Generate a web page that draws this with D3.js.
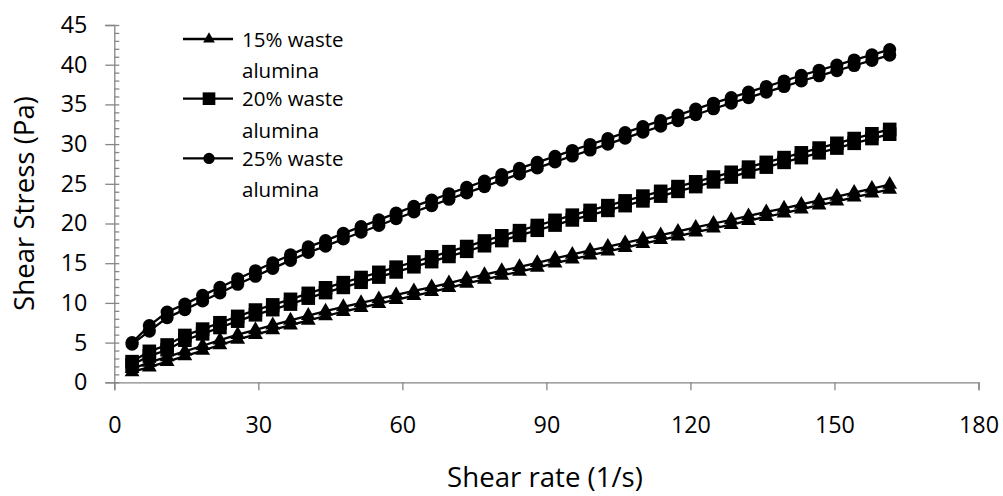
<!DOCTYPE html>
<html><head><meta charset="utf-8">
<script src="https://cdn.jsdelivr.net/npm/d3@7"></script>
<style>
html,body{margin:0;padding:0;background:#fff;}
text{font-family:"Open Sans",sans-serif;fill:#000;}
</style></head>
<body><svg id="c" width="1003" height="496"></svg>
<script>
// Shear rate (1/s)
const shearRate = [3.7,7.3,11.0,14.7,18.4,22.0,25.7,29.4,33.0,36.7,40.4,44.0,47.7,51.4,55.1,58.7,62.4,66.1,69.7,73.4,77.1,80.7,84.4,88.1,91.8,95.4,99.1,102.8,106.4,110.1,113.8,117.4,121.1,124.8,128.5,132.1,135.8,139.5,143.1,146.8,150.5,154.1,157.8,161.5];

// 15% waste alumina (two sweeps)
const s15a = [1.7,2.5,3.2,3.9,4.6,5.3,6.0,6.6,7.2,7.8,8.4,8.95,9.5,10.0,10.5,11.0,11.5,12.0,12.5,13.05,13.55,14.05,14.55,15.05,15.6,16.1,16.6,17.1,17.55,18.05,18.55,19.0,19.5,20.0,20.45,20.95,21.45,21.9,22.4,22.9,23.4,23.9,24.4,24.9];
const s15b = [1.3,1.9,2.6,3.3,4.0,4.7,5.4,6.0,6.6,7.2,7.8,8.35,8.9,9.4,9.9,10.4,10.9,11.4,11.9,12.45,12.95,13.45,13.95,14.45,15.0,15.5,16.0,16.5,16.95,17.45,17.95,18.4,18.9,19.4,19.85,20.35,20.85,21.3,21.8,22.3,22.8,23.3,23.8,24.3];

// 20% waste alumina (two sweeps)
const s20a = [2.6,3.9,4.7,5.9,6.7,7.5,8.3,9.1,9.75,10.45,11.2,11.9,12.55,13.2,13.85,14.5,15.15,15.8,16.45,17.1,17.8,18.45,19.1,19.75,20.4,21.05,21.65,22.25,22.85,23.45,24.05,24.65,25.25,25.85,26.45,27.1,27.7,28.3,28.9,29.5,30.1,30.7,31.3,31.85];
const s20b = [2.2,3.3,4.1,5.3,6.1,6.9,7.7,8.5,9.15,9.85,10.6,11.3,11.95,12.6,13.25,13.9,14.55,15.2,15.85,16.5,17.2,17.85,18.5,19.15,19.8,20.45,21.05,21.65,22.25,22.85,23.45,24.05,24.65,25.25,25.85,26.5,27.1,27.7,28.3,28.9,29.5,30.1,30.7,31.25];

// 25% waste alumina (two sweeps)
const s25a = [5.0,7.15,8.85,9.85,10.95,11.95,13.05,14.05,15.05,16.05,17.05,17.85,18.75,19.6,20.45,21.3,22.15,22.95,23.75,24.55,25.35,26.15,26.95,27.7,28.45,29.2,29.95,30.7,31.45,32.2,32.95,33.65,34.4,35.15,35.85,36.55,37.25,37.95,38.65,39.3,39.95,40.6,41.25,41.9];
const s25b = [4.8,6.45,8.15,9.15,10.25,11.25,12.35,13.35,14.35,15.35,16.35,17.15,18.05,18.9,19.75,20.6,21.45,22.25,23.05,23.85,24.65,25.45,26.25,27.0,27.75,28.5,29.25,30.0,30.75,31.5,32.25,32.95,33.7,34.45,35.15,35.85,36.55,37.25,37.95,38.6,39.25,39.9,40.55,41.2];

const legendLabels = [["15% waste","alumina"],["20% waste","alumina"],["25% waste","alumina"]];
const xTicks = [0,30,60,90,120,150,180];
const yTicks = [0,5,10,15,20,25,30,35,40,45];
const xTitle = "Shear rate (1/s)";
const yTitle = "Shear Stress (Pa)";

const svg = d3.select("#c");
const x = d3.scaleLinear().domain([0,180]).range([114.3,978.5]);
const y = d3.scaleLinear().domain([0,45]).range([382.3,25]);
const axisCol = "#868686";

// axes
const gx = svg.append("g").attr("transform",`translate(0,${y(0)})`)
  .call(d3.axisBottom(x).tickValues(xTicks).tickSize(8).tickPadding(26).tickFormat(d3.format("d")));
gx.select(".domain").attr("stroke",axisCol).attr("stroke-width",1.3);
gx.selectAll(".tick line").attr("stroke",axisCol).attr("stroke-width",1.3);
gx.selectAll(".tick text").attr("font-size",23.3).attr("font-family","Open Sans").attr("fill","#000");

const gy = svg.append("g").attr("transform",`translate(${x(0)},0)`)
  .call(d3.axisLeft(y).tickValues(yTicks).tickSize(9).tickPadding(18).tickFormat(d3.format("d")));
gy.select(".domain").attr("stroke",axisCol).attr("stroke-width",1.3);
gy.selectAll(".tick line").attr("stroke",axisCol).attr("stroke-width",1.3);
gy.selectAll(".tick text").attr("font-size",23.3).attr("font-family","Open Sans").attr("fill","#000");

// minor ticks inside
const gyMinor = svg.append("g").attr("transform",`translate(${x(0)},0)`)
  .call(d3.axisRight(y).ticks(45).tickSize(5).tickFormat(""));
gyMinor.select(".domain").remove();
gyMinor.selectAll(".tick line").attr("stroke",axisCol).attr("stroke-width",1.3);

// titles
svg.append("text").attr("x",545).attr("y",487).attr("text-anchor","middle")
  .attr("font-size",27.6).text(xTitle);
svg.append("text").attr("transform","translate(34,203.5) rotate(-90)").attr("text-anchor","middle")
  .attr("font-size",27.6).text(yTitle);

// series
const series = [
  {curves:[s15a,s15b], sym:d3.symbolTriangle, size:95},
  {curves:[s20a,s20b], sym:d3.symbolSquare, size:185},
  {curves:[s25a,s25b], sym:d3.symbolCircle, size:135}
];
const line = d3.line().x(d=>x(d[0])).y(d=>y(d[1]));
const plot = svg.append("g");
series.forEach(s=>{
  s.curves.forEach(vals=>{
    const pts = shearRate.map((r,i)=>[r,vals[i]]);
    plot.append("path").attr("d",line(pts)).attr("fill","none").attr("stroke","#000").attr("stroke-width",2.3);
  });
});
series.forEach(s=>{
  s.curves.forEach(vals=>{
    const pts = shearRate.map((r,i)=>[r,vals[i]]);
    plot.selectAll(null).data(pts).enter().append("path")
      .attr("d",d3.symbol().type(s.sym).size(s.size))
      .attr("transform",d=>`translate(${x(d[0])},${y(d[1])})`)
      .attr("fill","#000");
  });
});

// legend
const lg = svg.append("g");
const legSizes = [60,160,100];
series.forEach((s,i)=>{
  const cy = 39 + i*59.7;
  lg.append("line").attr("x1",183).attr("x2",233).attr("y1",cy).attr("y2",cy).attr("stroke","#000").attr("stroke-width",2.3);
  lg.append("path").attr("d",d3.symbol().type(s.sym).size(legSizes[i])).attr("transform",`translate(209,${cy})`).attr("fill","#000");
  lg.append("text").attr("x",242).attr("y",cy+7.5).attr("font-size",20.5).text(legendLabels[i][0]);
  lg.append("text").attr("x",242).attr("y",cy+39).attr("font-size",20.5).text(legendLabels[i][1]);
});
</script></body></html>
